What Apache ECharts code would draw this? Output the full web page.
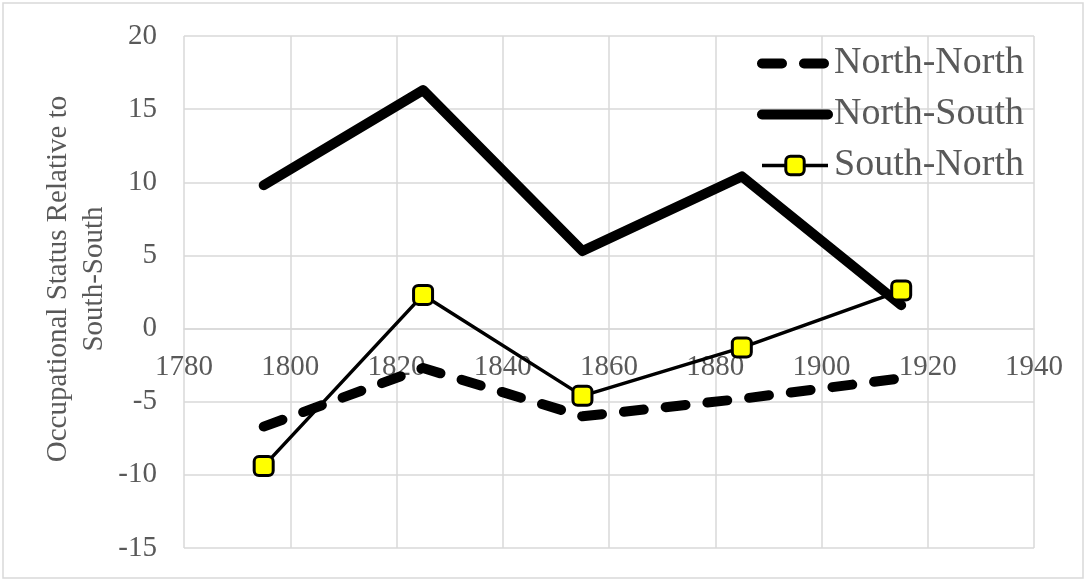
<!DOCTYPE html>
<html>
<head>
<meta charset="utf-8">
<script src="https://cdn.jsdelivr.net/npm/echarts@6/dist/echarts.min.js"></script>
<style>
  html, body { margin: 0; padding: 0; background: #ffffff; }
  #chart { width: 1086px; height: 580px; }
</style>
</head>
<body>
<div id="chart"></div>
<script>
// Birth-decade midpoints (x) and status gaps relative to South-South (y)
const years = [1795, 1825, 1855, 1885, 1915];
const northNorth = [-6.7, -2.7, -6.0, -4.8, -3.4];
const northSouth = [9.8, 16.3, 5.3, 10.4, 1.6];
const southNorth = [-9.4, 2.3, -4.6, -1.3, 2.6];

const seriesNames = ['North-North', 'North-South', 'South-North'];
const yAxisTitle = 'Occupational Status Relative to\nSouth-South';

const X_MIN = 1780, X_MAX = 1940, X_STEP = 20;
const Y_MIN = -15, Y_MAX = 20, Y_STEP = 5;

const FONT = '"Liberation Serif", "DejaVu Serif", serif';
const TEXT = '#595959';
const GRID = '#d9d9d9';

const GRID_TOP = 36, GRID_BOTTOM = 32, CHART_H = 580;
const plotHeight = CHART_H - GRID_TOP - GRID_BOTTOM;
// the horizontal axis crosses the vertical one at y = 0
const zeroOffset = -((0 - Y_MIN) / (Y_MAX - Y_MIN)) * plotHeight;

const pairs = vals => years.map((y, i) => [y, vals[i]]);

const DASH = [20, 22];

const chart = echarts.init(document.getElementById('chart'), null, { renderer: 'canvas' });

chart.setOption({
  backgroundColor: '#ffffff',
  animation: false,
  textStyle: { fontFamily: FONT },
  graphic: [
    {
      type: 'rect',
      shape: { x: 3, y: 3, width: 1080, height: 575 },
      style: { fill: 'none', stroke: GRID, lineWidth: 1.5 },
      silent: true
    },
    {
      type: 'text',
      x: 76,
      y: 279,
      rotation: Math.PI / 2,
      silent: true,
      style: {
        text: yAxisTitle,
        fill: TEXT,
        fontFamily: FONT,
        fontSize: 29,
        lineHeight: 36,
        align: 'center',
        verticalAlign: 'middle',
        textAlign: 'center',
        textVerticalAlign: 'middle'
      }
    }
  ],
  grid: { left: 184, right: 52, top: GRID_TOP, bottom: GRID_BOTTOM, containLabel: false },
  legend: {
    orient: 'vertical',
    left: 752,
    top: 38,
    itemWidth: 66,
    itemHeight: 23,
    itemGap: 10,
    textStyle: { fontFamily: FONT, fontSize: 38, lineHeight: 41, color: TEXT, padding: [0, 0, 0, 1] },
    data: [
      {
        name: seriesNames[0],
        lineStyle: { color: '#000000', width: 10, type: DASH, cap: 'round' },
        itemStyle: { opacity: 0 }
      },
      {
        name: seriesNames[1],
        lineStyle: { color: '#000000', width: 10, type: 'solid', cap: 'round' },
        itemStyle: { opacity: 0 }
      },
      {
        name: seriesNames[2],
        lineStyle: { color: '#000000', width: 3.5, type: 'solid' },
        itemStyle: { color: '#ffff00', borderColor: '#000000', borderWidth: 3 }
      }
    ]
  },
  xAxis: {
    type: 'value',
    min: X_MIN,
    max: X_MAX,
    interval: X_STEP,
    offset: zeroOffset,
    axisLine: { onZero: false, lineStyle: { color: GRID, width: 1.5 } },
    axisTick: { show: false },
    axisLabel: {
      fontFamily: FONT, fontSize: 29, color: TEXT, margin: 24,
      formatter: v => String(v)
    },
    splitLine: { show: true, lineStyle: { color: GRID, width: 1.5 } }
  },
  yAxis: {
    type: 'value',
    min: Y_MIN,
    max: Y_MAX,
    interval: Y_STEP,
    axisLine: { show: false },
    axisTick: { show: false },
    axisLabel: { fontFamily: FONT, fontSize: 29, color: TEXT, margin: 27 },
    splitLine: { show: true, lineStyle: { color: GRID, width: 1.5 } }
  },
  series: [
    {
      name: seriesNames[0],
      type: 'line',
      data: pairs(northNorth),
      symbol: 'none',
      lineStyle: { color: '#000000', width: 10, type: DASH, cap: 'round', join: 'round' },
      itemStyle: { color: '#000000' },
      z: 2
    },
    {
      name: seriesNames[1],
      type: 'line',
      data: pairs(northSouth),
      symbol: 'none',
      lineStyle: { color: '#000000', width: 10, cap: 'round', join: 'round' },
      itemStyle: { color: '#000000' },
      z: 3
    },
    {
      name: seriesNames[2],
      type: 'line',
      data: pairs(southNorth),
      symbol: 'roundRect',
      symbolSize: 19,
      lineStyle: { color: '#000000', width: 3.5 },
      itemStyle: { color: '#ffff00', borderColor: '#000000', borderWidth: 3 },
      z: 4
    }
  ]
});
</script>
</body>
</html>
